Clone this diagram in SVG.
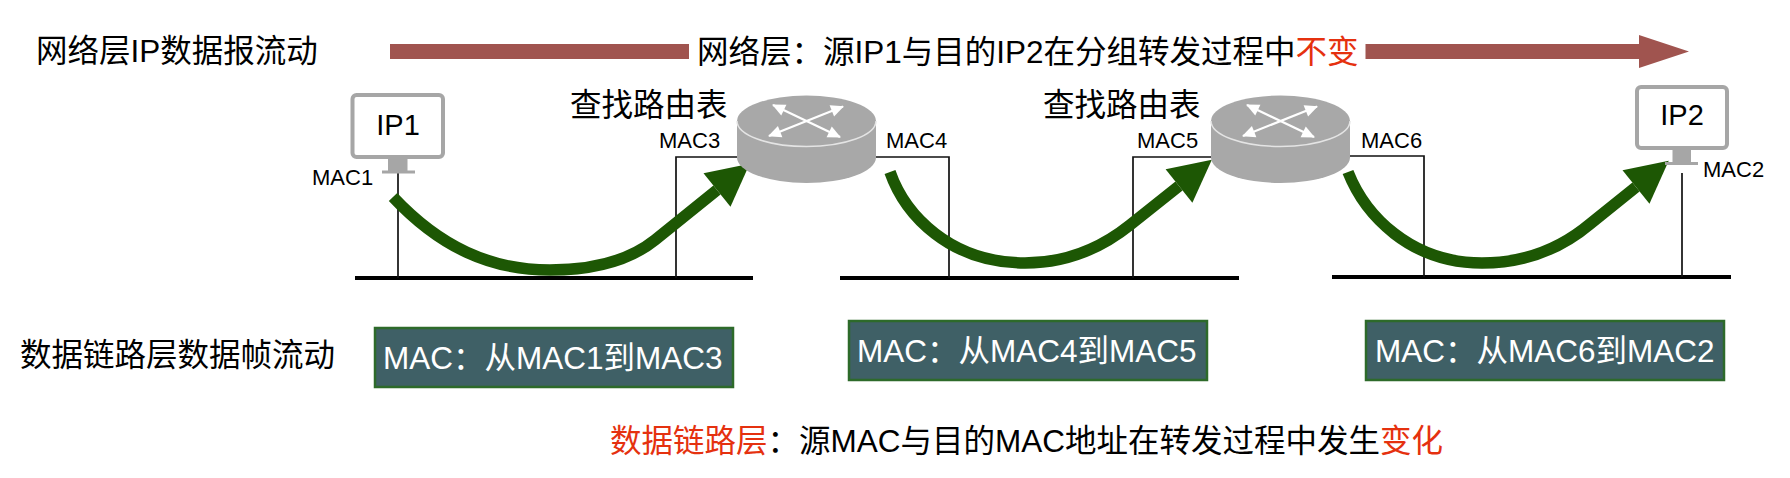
<svg xmlns="http://www.w3.org/2000/svg" xmlns:xlink="http://www.w3.org/1999/xlink" width="1790" height="478" viewBox="0 0 1790 478">
<style>
text{font-family:"Liberation Sans","Noto Sans CJK SC",sans-serif;fill:#000}
.t{font-size:31.5px}
.m{font-size:22px}
.ip{font-size:29px;text-anchor:middle}
.w{fill:#fff;font-size:31.5px}
.red{fill:#e5310f}
.wire{fill:none;stroke:#111;stroke-width:1.7}
.bus{fill:none;stroke:#000;stroke-width:4}
.flow{fill:none;stroke:#1d5704;stroke-width:11.5;marker-end:url(#head)}
.box{fill:#3f6066;stroke:#2d6a2a;stroke-width:2.5}
.screen{fill:#fff;stroke:#a6a6a6;stroke-width:4}
.stand{fill:#a6a6a6}
.body{fill:#a8a8a8}
.rim{fill:none;stroke:#e4e4e4;stroke-width:1.5}
.cross{fill:none;stroke:#fff;stroke-width:2.2;marker-start:url(#wh);marker-end:url(#wh)}
</style>
<defs>
<marker id="head" markerUnits="userSpaceOnUse" markerWidth="44" markerHeight="44" refX="0" refY="21.5" orient="auto" overflow="visible"><path d="M0,0L42,21.5L0,43Z" fill="#1d5704"/></marker>
<marker id="wh" markerUnits="userSpaceOnUse" markerWidth="14" markerHeight="12" refX="12" refY="6" orient="auto-start-reverse" overflow="visible"><path d="M0,0L13,6L0,12Z" fill="#fff"/></marker>
<g id="router">
<path class="body" d="M737,121A69.5,25.5 0 0 1 876,121V157.5A69.5,25.5 0 0 1 737,157.5Z"/>
<path class="rim" d="M737,121A69.5,25.5 0 0 0 876,121"/>
<path class="cross" d="M773,105L840,137"/>
<path class="cross" d="M843,106.5L769,136"/>
</g>
</defs>
<g id="connectors">
<path class="bus" d="M355,278H753"/>
<path class="bus" d="M840,278H1239"/>
<path class="bus" d="M1332,277H1731"/>
<path class="wire" d="M398,173V278"/>
<path class="wire" d="M737,157H676V278"/>
<path class="wire" d="M876,157H949V278"/>
<path class="wire" d="M1211,157H1133V278"/>
<path class="wire" d="M1350,156H1424V277"/>
<path class="wire" d="M1682,173V277"/>
<path class="flow" d="M393,197C440,247 490,270 550,270C595,270 630,260 655,240L717,190"/>
<path class="flow" d="M890,172C905,215 950,263 1025,263C1070,263 1105,245 1130,225L1179,186"/>
<path class="flow" d="M1348,172C1365,215 1410,263 1482,263C1530,263 1565,245 1590,224L1636,187"/>
</g>
<g id="ip-flow-arrow"><path d="M390,44H689V59H390ZM1365.5,44H1639V35L1689,51.5L1639,68V59H1365.5Z" fill="#a0544f"/></g>
<g id="pc1">
<rect class="screen" x="352.5" y="95" width="90.5" height="62" rx="4"/>
<path class="stand" d="M388,159H407.5V170.5H415V173.5H382V170.5H388Z"/>
<text class="ip" x="398" y="135">IP1</text>
<text class="m" x="312" y="185">MAC1</text>
</g>
<g id="router1">
<use xlink:href="#router" href="#router"/>
<text class="t" x="570" y="116">查找路由表</text>
<text class="m" x="659" y="148">MAC3</text>
<text class="m" x="886" y="148">MAC4</text>
</g>
<g id="router2">
<use xlink:href="#router" href="#router" transform="translate(474,0)"/>
<text class="t" x="1043" y="116">查找路由表</text>
<text class="m" x="1137" y="148">MAC5</text>
<text class="m" x="1361" y="148">MAC6</text>
</g>
<g id="pc2">
<rect class="screen" x="1637" y="87" width="90" height="61" rx="4"/>
<path class="stand" d="M1672.5,150H1691V162H1698V165H1665V162H1672.5Z"/>
<text class="ip" x="1682" y="125">IP2</text>
<text class="m" x="1703" y="177">MAC2</text>
</g>
<g id="labels">
<text class="t" x="36" y="62">网络层IP数据报流动</text>
<text class="t" x="697" y="63">网络层&#xFF1A;源IP1与目的IP2在分组转发过程中<tspan class="red">不变</tspan></text>
<text class="t" x="20" y="366">数据链路层数据帧流动</text>
<text class="t" x="610" y="452"><tspan class="red">数据链路层</tspan>&#xFF1A;源MAC与目的MAC地址在转发过程中发生<tspan class="red">变化</tspan></text>
</g>
<g id="frame1"><rect class="box" x="375" y="328" width="358" height="59"/><text class="w" x="383" y="369">MAC&#xFF1A;从MAC1到MAC3</text></g>
<g id="frame2"><rect class="box" x="849" y="321" width="358" height="59"/><text class="w" x="857" y="362">MAC&#xFF1A;从MAC4到MAC5</text></g>
<g id="frame3"><rect class="box" x="1366" y="321" width="358" height="59"/><text class="w" x="1375" y="362">MAC&#xFF1A;从MAC6到MAC2</text></g>
</svg>
